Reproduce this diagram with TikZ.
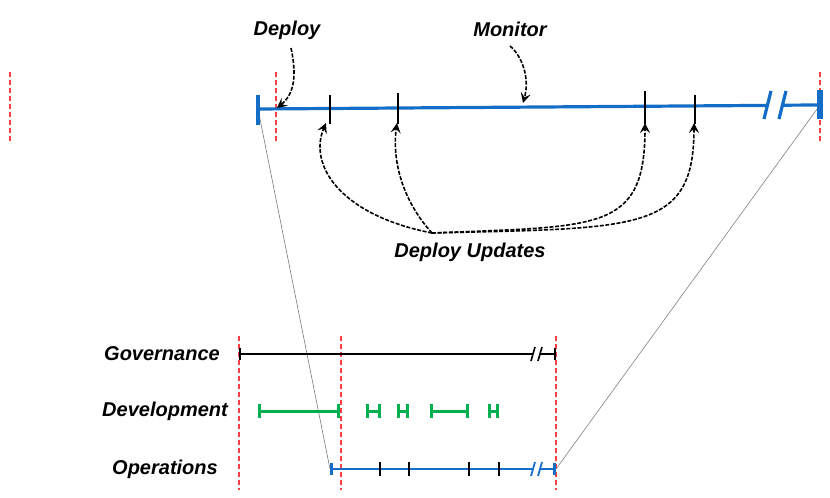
\documentclass[tikz,border=0pt]{standalone}
\usepackage{fontspec}
\setmainfont{Liberation Sans}
\usetikzlibrary{arrows.meta}
\definecolor{opblue}{RGB}{20,110,200}
\definecolor{devgreen}{RGB}{0,176,80}

\begin{document}
\begin{tikzpicture}[x=0.5pt,y=-0.5pt,
  lbl/.style={font=\fontsize{10}{12}\selectfont\bfseries\itshape},
  guide/.style={red!75, line width=0.7pt, dash pattern=on 2.5pt off 1.5pt},
  flow/.style={black, line width=0.8pt, dash pattern=on 2pt off 0.8pt, -{Stealth[length=5pt,width=5pt,inset=2pt]}},
  link/.style={gray, line width=0.3pt},
  tickmark/.style={black, line width=0.6pt},
  opline/.style={opblue, line width=1.3pt},
  devseg/.style={devgreen, line width=1.5pt, {Bar[width=7pt]}-{Bar[width=7pt]}}]
  \useasboundingbox (0,0) rectangle (830,498);

  % time guides
  \foreach \x in {10,276,820} \draw[guide] (\x,72) -- (\x,142);
  \foreach \x in {239,341,556} \draw[guide] (\x,336) -- (\x,490);

  % top timeline
  \coordinate (tl) at (258,109);
  \coordinate (tr) at (820,105);
  \coordinate (ol) at (330,469);
  \coordinate (or) at (556,469);
  \draw[link] (tl) -- (ol);
  \draw[link] (tr) -- (or);
  \draw[opblue, line width=1.6pt] (tl) -- (767.5,105.4) (781.5,105.2) -- (tr);
  \draw[opblue, line width=1.6pt] (771,91) -- (764,119) (786,91) -- (779,119);
  \draw[opblue, line width=2pt] (258,95) -- (258,125);
  \draw[opblue, line width=2.6pt] (820,90) -- (820,119);
  \draw[tickmark] (330,95) -- (330,124) (398,93) -- (398,124)
    (645,91) -- (645,124) (695,95) -- (695,124);

  \node[lbl] (dep) at (287,30) {Deploy};
  \node[lbl] (mon) at (510,29) {Monitor};
  \node[lbl] (upd) at (470,252) {Deploy Updates};
  \coordinate (u) at (432,233);
  \draw[flow] (291,48) .. controls (298,80) and (292,96) .. (277,108);
  \draw[flow] (510,46) .. controls (522,56) and (530,78) .. (523,103);
  \draw[flow] (u) .. controls (340,215) and (308,165) .. (326,123);
  \draw[flow] (u) .. controls (402,200) and (392,160) .. (397,123);
  \draw[flow] (u) .. controls (600,226) and (645,232) .. (645,123);
  \draw[flow] (u) .. controls (640,228) and (694,232) .. (694,123);

  % bottom lanes
  \node[lbl] (gov) at (162,354) {Governance};
  \node[lbl] (dev) at (165,411) {Development};
  \node[lbl] (ops) at (165,469) {Operations};

  \draw[black, line width=0.9pt, {Bar[width=6pt]}-] (239,354) -- (532.5,354);
  \draw[black, line width=0.9pt, -{Bar[width=6pt]}] (539.5,354) -- (556,354);
  \draw[black, line width=0.8pt] (535,347) -- (531,361) (542,347) -- (538,361);

  \foreach \a/\b in {258/340,366/381,397/409,430/469,488/499}
    \draw[devseg] (\a,411) -- (\b,411);

  \draw[opline, {Bar[width=6pt]}-] (ol) -- (532.5,469);
  \draw[opline, -{Bar[width=6pt]}] (539.5,469) -- (or);
  \draw[opblue, line width=0.9pt] (535,462) -- (531,476) (542,462) -- (538,476);
  \foreach \x in {380,409,469,499} \draw[tickmark] (\x,462) -- (\x,476);
\end{tikzpicture}
\end{document}
